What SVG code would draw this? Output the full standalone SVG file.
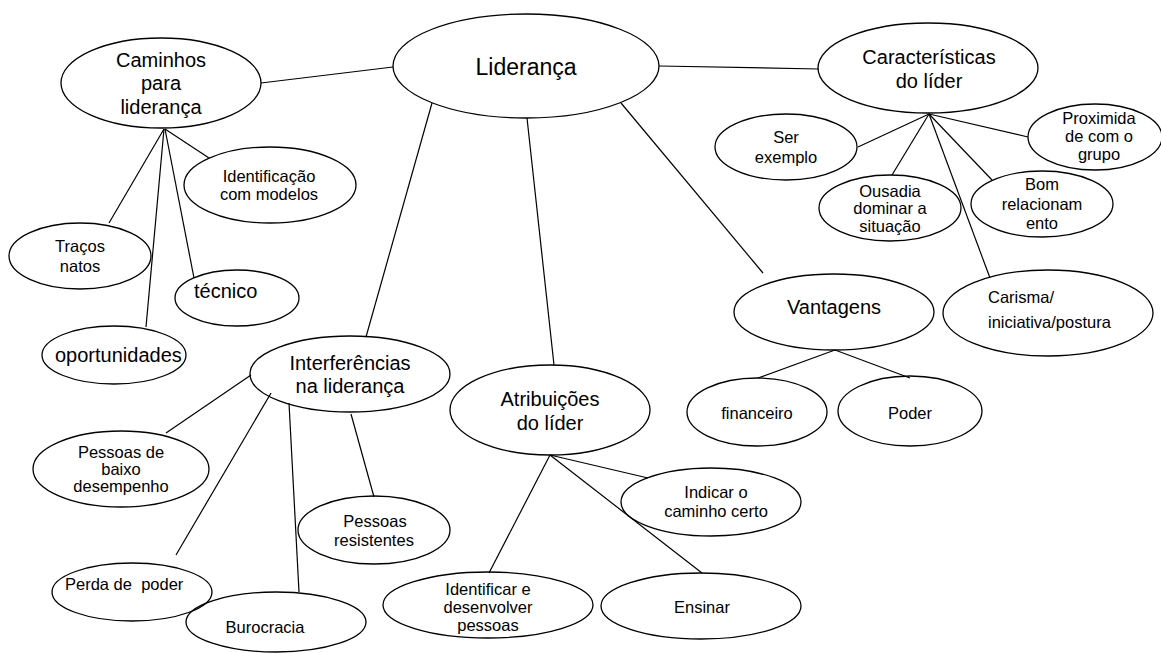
<svg xmlns="http://www.w3.org/2000/svg" width="1161" height="653" viewBox="0 0 1161 653">
<style>
.n ellipse{fill:none;stroke:#000;stroke-width:1.3}
.c line{stroke:#000;stroke-width:1.2}
text{font-family:"Liberation Sans",Arial,sans-serif;fill:#000}
.s{font-size:16.5px}
.m{font-size:20px}
.l{font-size:23px}
.mid{text-anchor:middle}
</style>
<rect width="1161" height="653" fill="#fff"/>
<g id="connectors" class="c">
<line x1="261" y1="83" x2="393" y2="67"/>
<line x1="659" y1="66" x2="819" y2="69"/>
<line x1="432" y1="103" x2="366" y2="337"/>
<line x1="527" y1="118" x2="554" y2="365"/>
<line x1="621" y1="103" x2="763" y2="273"/>
<line x1="164" y1="129" x2="109" y2="223"/>
<line x1="164" y1="129" x2="146" y2="327"/>
<line x1="165" y1="129" x2="194" y2="278"/>
<line x1="165" y1="129" x2="209" y2="158"/>
<line x1="929" y1="114" x2="858" y2="147"/>
<line x1="929" y1="114" x2="892" y2="175"/>
<line x1="929" y1="114" x2="992" y2="180"/>
<line x1="929" y1="114" x2="1028" y2="137"/>
<line x1="929" y1="114" x2="990" y2="278"/>
<line x1="835" y1="350" x2="758" y2="378"/>
<line x1="835" y1="350" x2="910" y2="378"/>
<line x1="251" y1="375" x2="166" y2="433"/>
<line x1="271" y1="393" x2="176" y2="555"/>
<line x1="289" y1="403" x2="299" y2="592"/>
<line x1="351" y1="414" x2="374" y2="497"/>
<line x1="550" y1="455" x2="648" y2="478"/>
<line x1="550" y1="455" x2="489" y2="573"/>
<line x1="550" y1="455" x2="702" y2="573"/>
</g>
<g id="lideranca" class="n"><ellipse cx="526" cy="66" rx="133" ry="52"/><text class="l mid" x="526" y="75">Liderança</text></g>
<g id="caminhos" class="n"><ellipse cx="161" cy="83" rx="100" ry="45"/><text class="m mid" x="161" y="67">Caminhos</text><text class="m mid" x="161" y="90">para</text><text class="m mid" x="161" y="114">liderança</text></g>
<g id="identificacao" class="n"><ellipse cx="270" cy="185" rx="86" ry="38"/><text class="s mid" x="269" y="182">Identificação</text><text class="s mid" x="269" y="200">com modelos</text></g>
<g id="tracos" class="n"><ellipse cx="80" cy="256" rx="71" ry="33"/><text class="s mid" x="80" y="252">Traços</text><text class="s mid" x="80" y="272">natos</text></g>
<g id="tecnico" class="n"><ellipse cx="237" cy="298" rx="62" ry="28"/><text class="m" x="194" y="298">técnico</text></g>
<g id="oportunidades" class="n"><ellipse cx="114" cy="355" rx="72" ry="29"/><text class="m" x="55" y="362">oportunidades</text></g>
<g id="caracteristicas" class="n"><ellipse cx="928" cy="68" rx="110" ry="45"/><text class="m mid" x="929" y="64">Características</text><text class="m mid" x="929" y="88">do líder</text></g>
<g id="ser-exemplo" class="n"><ellipse cx="786" cy="147" rx="71" ry="33"/><text class="s mid" x="786" y="143">Ser</text><text class="s mid" x="786" y="163">exemplo</text></g>
<g id="ousadia" class="n"><ellipse cx="890" cy="208" rx="71" ry="33"/><text class="s mid" x="890" y="197">Ousadia</text><text class="s mid" x="890" y="214">dominar a</text><text class="s mid" x="890" y="232">situação</text></g>
<g id="bom-relacionamento" class="n"><ellipse cx="1042" cy="204" rx="71" ry="33"/><text class="s mid" x="1042" y="190">Bom</text><text class="s mid" x="1042" y="210">relacionam</text><text class="s mid" x="1042" y="229">ento</text></g>
<g id="proximidade" class="n"><ellipse cx="1095" cy="137" rx="67" ry="33"/><text class="s mid" x="1099" y="124">Proximida</text><text class="s mid" x="1099" y="142">de com o</text><text class="s mid" x="1099" y="160">grupo</text></g>
<g id="carisma" class="n"><ellipse cx="1048" cy="313" rx="105" ry="43"/><text class="s" x="988" y="303">Carisma/</text><text class="s" x="988" y="328">iniciativa/postura</text></g>
<g id="vantagens" class="n"><ellipse cx="834" cy="312" rx="100" ry="38"/><text class="m mid" x="834" y="314">Vantagens</text></g>
<g id="financeiro" class="n"><ellipse cx="757" cy="412" rx="70" ry="34"/><text class="s mid" x="757" y="419">financeiro</text></g>
<g id="poder" class="n"><ellipse cx="910" cy="411" rx="72" ry="35"/><text class="s mid" x="910" y="419">Poder</text></g>
<g id="interferencias" class="n"><ellipse cx="350" cy="374" rx="100" ry="38"/><text class="m mid" x="350" y="370">Interferências</text><text class="m mid" x="350" y="393">na liderança</text></g>
<g id="baixo-desempenho" class="n"><ellipse cx="121" cy="469" rx="88" ry="38"/><text class="s mid" x="121" y="458">Pessoas de</text><text class="s mid" x="121" y="475">baixo</text><text class="s mid" x="121" y="492">desempenho</text></g>
<g id="perda-poder" class="n"><ellipse cx="132" cy="592" rx="80" ry="29"/><text class="s" x="65" y="590" xml:space="preserve" style="white-space:pre">Perda de  poder</text></g>
<g id="burocracia" class="n"><ellipse cx="276" cy="622" rx="90" ry="30"/><text class="s mid" x="265" y="633">Burocracia</text></g>
<g id="resistentes" class="n"><ellipse cx="374" cy="530" rx="76" ry="34"/><text class="s mid" x="375" y="527">Pessoas</text><text class="s mid" x="374" y="546">resistentes</text></g>
<g id="atribuicoes" class="n"><ellipse cx="550" cy="410" rx="100" ry="45"/><text class="m mid" x="550" y="406">Atribuições</text><text class="m mid" x="550" y="430">do líder</text></g>
<g id="indicar" class="n"><ellipse cx="711" cy="502" rx="90" ry="34"/><text class="s mid" x="716" y="498">Indicar o</text><text class="s mid" x="716" y="517">caminho certo</text></g>
<g id="identificar" class="n"><ellipse cx="488" cy="605" rx="105" ry="33"/><text class="s mid" x="488" y="595">Identificar e</text><text class="s mid" x="488" y="613">desenvolver</text><text class="s mid" x="488" y="631">pessoas</text></g>
<g id="ensinar" class="n"><ellipse cx="701" cy="606" rx="100" ry="33"/><text class="s mid" x="702" y="613">Ensinar</text></g>
</svg>
